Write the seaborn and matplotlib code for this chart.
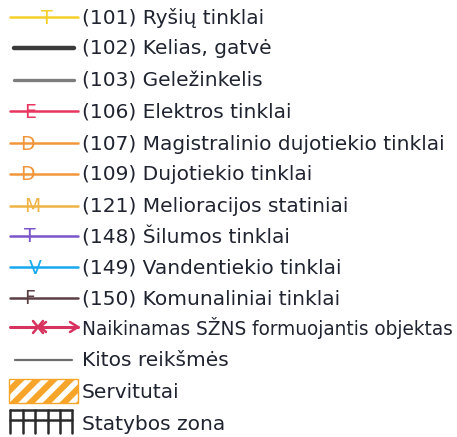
import matplotlib
import matplotlib.pyplot as plt
import seaborn as sns
from matplotlib.patches import Rectangle

matplotlib.use("agg")

# legend entries
labels = [
    "(101) Ryšių tinklai",
    "(102) Kelias, gatvė",
    "(103) Geležinkelis",
    "(106) Elektros tinklai",
    "(107) Magistralinio dujotiekio tinklai",
    "(109) Dujotiekio tinklai",
    "(121) Melioracijos statiniai",
    "(148) Šilumos tinklai",
    "(149) Vandentiekio tinklai",
    "(150) Komunaliniai tinklai",
    "Naikinamas SŽNS formuojantis objektas",
    "Kitos reikšmės",
    "Servitutai",
    "Statybos zona",
]
colors = [
    "#f5cf2a", "#3a3a3a", "#7d7d7d", "#e8345e", "#f2963c", "#f2963c",
    "#f0b445", "#7a55c9", "#18a8ef", "#5b3f42", "#d8335f", "#6e6e6e",
    "#f6a52a", "#2a2a2a",
]
letters = ["T", "", "", "E", "D", "D", "M", "T", "V", "F", "", "", "", ""]
kinds = ["line"] * 11 + ["line", "hatch", "grid"]

# layout (pixel coordinates)
row_y = [17, 48, 80, 111, 143, 174, 206, 236, 267, 298, 327, 360, 391, 423]
line_x = [(10, 78), (14, 74), (14, 74), (10, 78), (10, 78), (10, 78), (10, 78),
          (10, 78), (10, 78), (10, 78), (10, 78), (15, 72), (9, 78), (10, 72)]
line_w = [1.8, 3.2, 2.4, 1.8, 1.8, 1.8, 1.8, 1.8, 1.8, 1.8, 2.2, 1.6, 1.0, 1.8]
letter_x = [47, 0, 0, 30, 27, 27, 32, 30, 35, 30, 0, 0, 0, 0]

sns.set_theme(style="white")
plt.rcParams["font.family"] = ["DejaVu Sans"]
plt.rcParams["hatch.linewidth"] = 4.5

fig = plt.figure(figsize=(4.57, 4.37), dpi=100)
ax = fig.add_axes([0, 0, 1, 1])
ax.set_xlim(0, 457)
ax.set_ylim(437, 0)
ax.axis("off")
renderer = fig.canvas.get_renderer()

for i, lab in enumerate(labels):
    y = row_y[i]
    x0, x1 = line_x[i]
    c = colors[i]
    if kinds[i] == "line":
        sns.lineplot(x=[x0, x1], y=[y, y], color=c, linewidth=line_w[i], ax=ax)
        if letters[i]:
            ax.text(letter_x[i], y + 1, letters[i], color=c, fontsize=13.5,
                    ha="center", va="center", zorder=4)
        if i == 10:
            # crossed arrow symbol
            ax.plot([33, 43], [y - 6, y + 6], color=c, lw=1.8)
            ax.plot([33, 43], [y + 6, y - 6], color=c, lw=1.8)
            ax.plot([70, 78, 70], [y - 5, y, y + 5], color=c, lw=1.8)
            ax.plot([46, 40, 46], [y - 5, y, y + 5], color=c, lw=1.8)
    elif kinds[i] == "hatch":
        ax.add_patch(Rectangle((x0, y - 12), x1 - x0, 24, facecolor="white",
                               edgecolor=c, hatch="//", lw=1.0))
    else:
        ax.plot([x0, x1], [410, 410], color=c, lw=1.8)
        ax.plot([x0, x1], [420, 420], color=c, lw=1.8)
        for tx in [10, 22.5, 35, 47.5, 60, 72]:
            ax.plot([tx, tx], [410, 433], color=c, lw=1.8)
    t = ax.text(82, y + 1, lab, color="#1f2430", fontsize=14.5,
                ha="left", va="center")
    w = t.get_window_extent(renderer).width
    if w > 373:
        t.set_fontsize(14.5 * 373 / w)

fig.savefig("out.png", dpi=100)
